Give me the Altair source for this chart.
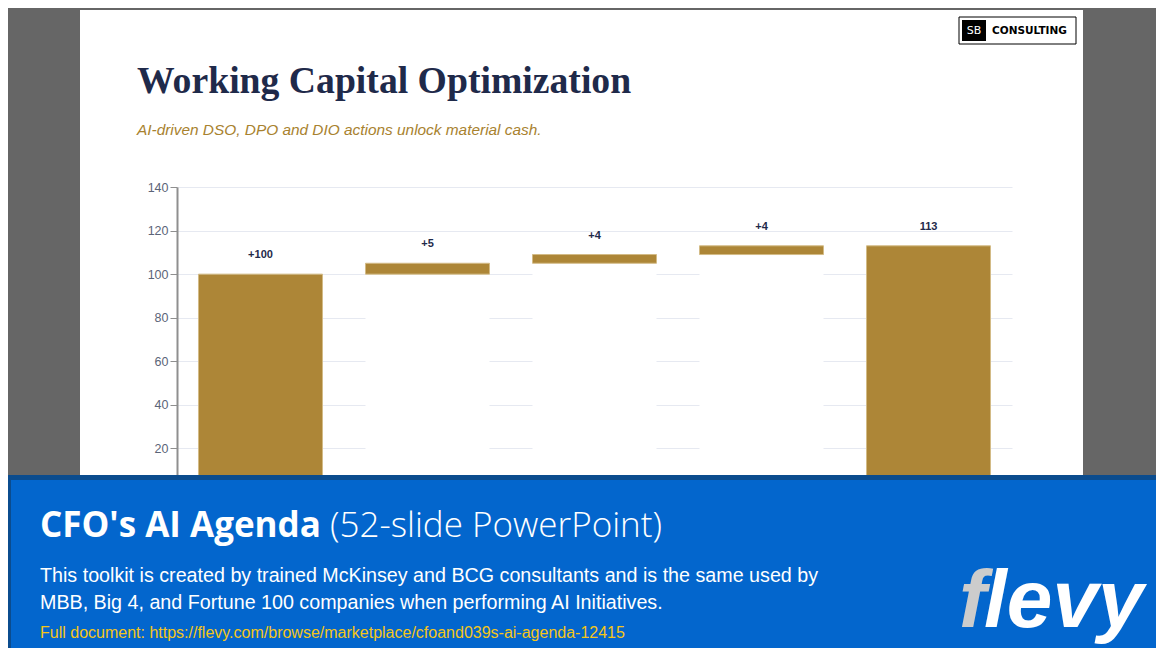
import altair as alt
import pandas as pd

# ---- data ----
steps = ["Baseline", "DSO", "DPO", "DIO", "Optimized"]
values = [100, 5, 4, 4, 113]
kinds = ["abs", "delta", "delta", "delta", "total"]
labels = ["+100", "+5", "+4", "+4", "113"]
y_ticks = [0, 20, 40, 60, 80, 100, 120, 140]

title_text = "Working Capital Optimization"
subtitle_text = "AI-driven DSO, DPO and DIO actions unlock material cash."
logo_box = "SB"
logo_word = "CONSULTING"
banner_title_bold = "CFO's AI Agenda"
banner_title_light = "(52-slide PowerPoint)"
banner_line1 = "This toolkit is created by trained McKinsey and BCG consultants and is the same used by"
banner_line2 = "MBB, Big 4, and Fortune 100 companies when performing AI Initiatives."
banner_link = "Full document: https://flevy.com/browse/marketplace/cfoand039s-ai-agenda-12415"

# ---- waterfall table ----
starts, ends = [], []
running = 0
for v, k in zip(values, kinds):
    if k == "abs":
        s, e = 0, v
        running = v
    elif k == "delta":
        s, e = running, running + v
        running = e
    else:
        s, e = 0, v
    starts.append(s)
    ends.append(e)
df = pd.DataFrame({"step": steps, "start": starts, "end": ends, "label": labels})

# ---- layout (page coords -> plot coords) ----
OX, OY = 177, 187
W, H = 835, 305
TOTAL_W, TOTAL_H = 1148, 640


def rx(px):
    return px - OX


def ry(py):
    return py - OY


one = pd.DataFrame({"k": [0]})


def rect(x1, y1, x2, y2, color, stroke=None):
    kw = dict(color=color, strokeWidth=0)
    if stroke:
        kw = dict(fill=color, stroke=stroke, strokeWidth=1)
    return alt.Chart(one).mark_rect(**kw).encode(
        x=alt.value(rx(x1)), x2=alt.value(rx(x2)),
        y=alt.value(ry(y1)), y2=alt.value(ry(y2)))


def txt(text, px, py, size, color, font, weight="normal", style="normal",
        align="left", baseline="alphabetic"):
    return alt.Chart(one).mark_text(
        text=text, fontSize=size, color=color, font=font, fontWeight=weight,
        fontStyle=style, align=align, baseline=baseline
    ).encode(x=alt.value(rx(px)), y=alt.value(ry(py)))


GOLD = "#AD8637"
NAVY = "#1F2A4A"
SANS = "Liberation Sans"

x_enc = alt.X("step:N", sort=steps, axis=None,
              scale=alt.Scale(paddingInner=0.2575, paddingOuter=0.1287))
y_scale = alt.Scale(domain=[0, 140], nice=False, zero=True)

base = alt.Chart(df)

bars = base.mark_bar(color=GOLD, stroke="#d3bb86", strokeWidth=1).encode(
    x=x_enc,
    y=alt.Y("end:Q", scale=y_scale, title=None,
            axis=alt.Axis(values=y_ticks, grid=True, gridColor="#e6e9f1",
                          domainColor="#8f8f8f", domainWidth=2,
                          tickColor="#8f8f8f", tickSize=7, tickWidth=1,
                          labelColor="#5b6478", labelFontSize=12.5,
                          labelFont=SANS, labelPadding=2)),
    y2="start:Q",
)

white_base = base.transform_filter(alt.datum.start > 0).mark_bar(
    color="#ffffff", strokeWidth=0).encode(
    x=x_enc,
    y=alt.Y("start:Q", scale=y_scale),
    y2=alt.datum(0),
)

bar_labels = base.mark_text(fontSize=11, fontWeight="bold", color=NAVY,
                            font=SANS, dy=-19,
                            baseline="middle").encode(
    x=x_enc, y=alt.Y("end:Q", scale=y_scale), text="label:N")

layers = [
    white_base, bars, bar_labels,
    # grey page around the slide
    rect(0, 0, 80, 656, "#666666"),
    rect(1083, 0, 1164, 656, "#666666"),
    rect(0, 0, 1164, 10, "#666666"),
    # slide header
    txt(title_text, 137, 93, 37.7, NAVY, "Liberation Serif", weight="bold"),
    txt(subtitle_text, 137, 135, 15.4, "#A8822F", SANS, style="italic"),
    rect(959, 17, 1076, 44, "#ffffff", stroke="#000000"),
    rect(962, 20, 986, 41, "#000000"),
    txt(logo_box, 974, 31, 11, "#ffffff", "DejaVu Sans", align="center", baseline="middle"),
    txt(logo_word, 992, 31, 10.5, "#000000", "DejaVu Sans", weight="bold", baseline="middle"),
    # banner
    rect(0, 475, 1164, 656, "#0B4C8E"),
    rect(11, 480, 1164, 656, "#0366CD"),
    txt(banner_title_bold, 40, 537, 35, "#ffffff", "Open Sans", weight="bold"),
    txt(banner_title_light, 330, 537, 35, "#ffffff", "Open Sans", weight=300),
    txt(banner_line1, 40, 582, 19.7, "#ffffff", SANS),
    txt(banner_line2, 40, 609, 19.7, "#ffffff", SANS),
    txt(banner_link, 40, 638, 16, "#F5C518", SANS),
    txt("f", 959, 627, 82, "#cccccc", SANS, weight="bold", style="italic"),
    txt("levy", 984, 627, 82, "#ffffff", SANS, weight="bold", style="italic"),
]

chart = alt.layer(*layers).properties(
    width=W, height=H,
    autosize=alt.AutoSizeParams(type="none"),
    padding={"left": OX - 8, "top": OY - 8,
             "right": TOTAL_W - (OX - 8) - W,
             "bottom": TOTAL_H - (OY - 8) - H},
    background="#ffffff",
).configure_view(strokeWidth=0)

chart.save("out.html", embed_options={"renderer": "svg", "actions": False})
